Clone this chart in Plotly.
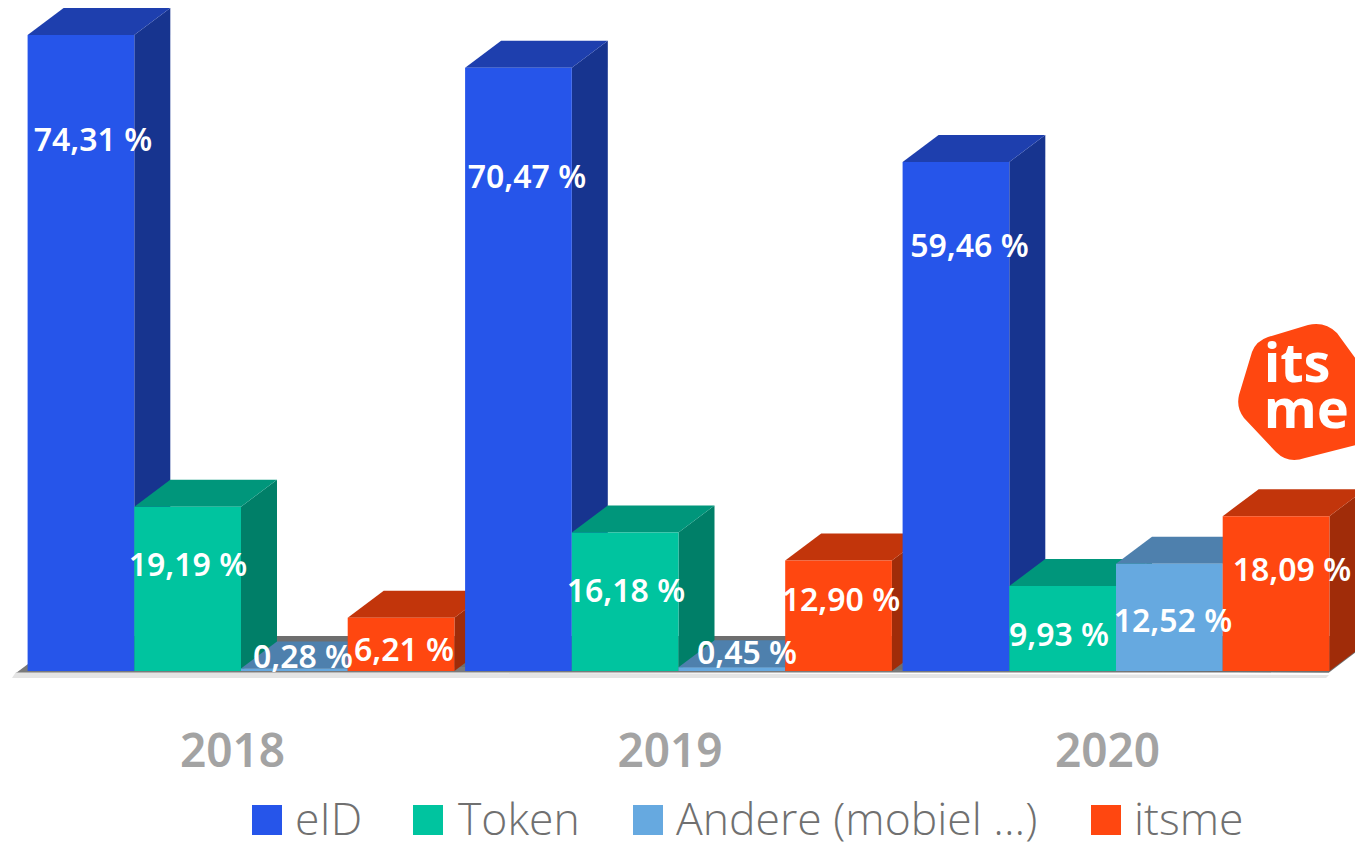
import plotly.graph_objects as go

years = ["2018", "2019", "2020"]
series = ["eID", "Token", "Andere (mobiel ...)", "itsme"]
eid = [74.31, 70.47, 59.46]
token = [19.19, 16.18, 9.93]
andere = [0.28, 0.45, 12.52]
itsme = [6.21, 12.90, 18.09]
values = [eid, token, andere, itsme]

front = ["#2655EA", "#00C49F", "#66A9E0", "#FF4710"]
top = ["#1E3FAE", "#00967B", "#4E80AD", "#C2350B"]
side = ["#17348F", "#007F68", "#3F6A90", "#A02C09"]

W, H = 1355, 843
BASE = 671.0
SCALE = 8.56
def Y(py):
    return (BASE - py) / SCALE

X0, BW, PERIOD = 27.6, 106.7, 437.5
DX, DY = 36.0, 27.0 / SCALE

fig = go.Figure()

def poly(xs, ys, color):
    fig.add_trace(go.Scatter(x=xs + xs[:1], y=ys + ys[:1], mode="lines", fill="toself",
                             fillcolor=color, line=dict(width=0, color=color),
                             showlegend=False, hoverinfo="skip"))

# floor
poly([12, 1326, 1329, 16], [Y(678), Y(678), Y(675), Y(672)], "#E4E4E4")
poly([16, 28, 1329, 1329, 16], [Y(673), Y(664), Y(664), Y(672.5), Y(672.5)], "#7A7A7A")
poly([64, 1365, 1365, 1329, 28], [Y(636), Y(636), Y(645), Y(672.5), Y(664)], "#6E6E6E")

# bars, painted left to right
for g in range(3):
    for s in range(4):
        v = values[s][g]
        x0 = X0 + g * PERIOD + s * BW
        x1 = x0 + BW
        poly([x1, x1 + DX, x1 + DX, x1], [0, DY, v + DY, v], side[s])
        poly([x0, x1, x1 + DX, x0 + DX], [v, v, v + DY, v + DY], top[s])
        poly([x0, x1, x1, x0], [0, 0, v, v], front[s])

# value labels (hand placed in the reference)
label_px = [
    [(93, 143), (188, 568), (303, 660), (404, 653)],
    [(527, 180), (626, 594), (747, 656), (841, 603)],
    [(969.5, 249), (1059, 638), (1173, 624), (1292, 573)],
]
for g in range(3):
    lx, ly, lt = [], [], []
    for s in range(4):
        lx.append(label_px[g][s][0])
        ly.append(Y(label_px[g][s][1]))
        lt.append(f"{values[s][g]:.2f} %".replace(".", ","))
    fig.add_trace(go.Scatter(x=lx, y=ly, text=lt, mode="text", showlegend=False, hoverinfo="skip",
                             textfont=dict(family="Noto Sans", size=32, color="white", weight=600)))

# legend
legend_sq_x = [267, 428, 648, 1106]
legend_tx_x = [295, 458, 676, 1134]
sq_y = Y(820)
tx_y = Y(824)
for i, name in enumerate(series):
    fig.add_trace(go.Scatter(x=[legend_sq_x[i]], y=[sq_y], mode="markers", name=name, showlegend=False,
                             hoverinfo="skip",
                             marker=dict(symbol="square", size=30, color=front[i], line=dict(width=0))))
    fig.add_trace(go.Scatter(x=[legend_tx_x[i]], y=[tx_y], mode="text", text=[name], textposition="middle right",
                             showlegend=False, hoverinfo="skip",
                             textfont=dict(family="Open Sans", size=44.5, color="#707070", weight=300)))

# logo
fig.add_shape(type="path", xref="x", yref="y", layer="above", line=dict(width=0), fillcolor="#FF4710",
              path=(f"M 1268 {Y(337)} L 1308 {Y(325)} Q 1325 {Y(321)} 1337 {Y(333)} L 1375 {Y(385)} "
                    f"L 1375 {Y(440)} L 1305 {Y(458)} Q 1288 {Y(464)} 1276 {Y(452)} L 1244 {Y(418)} "
                    f"Q 1236 {Y(408)} 1239 {Y(395)} L 1252 {Y(352)} Q 1256 {Y(341)} 1268 {Y(337)} Z"))
for t, cx, cy, sz in [("its", 1297, 361, 54), ("me", 1306, 407, 54)]:
    fig.add_annotation(x=cx, y=Y(cy), text=t, showarrow=False, xref="x", yref="y",
                       font=dict(family="Noto Sans", size=sz, color="white", weight=700))

AXIS_PX = 720
fig.update_layout(
    width=W, height=H, margin=dict(l=0, r=0, t=0, b=0),
    paper_bgcolor="white", plot_bgcolor="white", showlegend=False,
    xaxis=dict(range=[0, W], domain=[0, 1], anchor="free", position=(H - AXIS_PX) / H,
               tickmode="array", tickvals=[232.5 + i * PERIOD for i in range(3)], ticktext=years,
               showgrid=False, zeroline=False, showline=False, ticks="",
               tickfont=dict(family="Noto Sans", size=46, color="#A3A3A3", weight=600)),
    yaxis=dict(range=[Y(H), Y(0)], domain=[0, 1], visible=False, showgrid=False, zeroline=False),
)

fig.write_html("out.html", config={"displayModeBar": False},
               post_script="document.body.style.margin='0';document.body.style.overflow='hidden';")
